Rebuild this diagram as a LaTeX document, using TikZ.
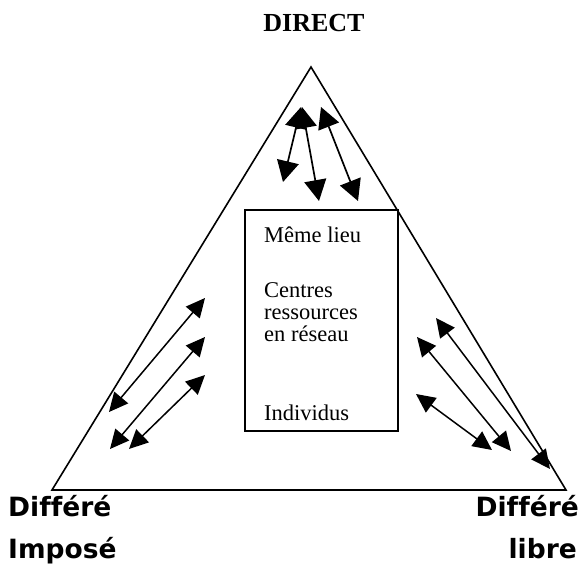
\documentclass[tikz,border=0pt]{standalone}
\usepackage{fontspec}
\setmainfont{Liberation Serif}
\newfontfamily\verd[Ligatures=NoCommon]{DejaVu Sans}
\usetikzlibrary{arrows.meta}
\begin{document}
\begin{tikzpicture}[x=1pt,y=-1pt,
  line/.style={line width=1.6pt},
  bigarrow/.style={line width=1.7pt,{Triangle[length=21pt,width=22pt]}-{Triangle[length=21pt,width=22pt]}},
  smallarrow/.style={line width=1.5pt,{Triangle[length=19pt,width=18pt]}-{Triangle[length=19pt,width=18pt]}},
  boxtext/.style={anchor=base west,inner sep=0pt,font=\fontsize{22.5}{24}\selectfont},
  corner/.style={inner sep=0pt,font=\verd\bfseries\fontsize{26.5}{30}\selectfont}]
\useasboundingbox (0,0) rectangle (583,572);
% triangle
\coordinate (apex) at (311,67);
\coordinate (bl) at (52,490);
\coordinate (br) at (566,490);
\draw[line,line join=miter] (apex) -- (bl) -- (br) -- cycle;
% box
\node[draw,line width=1.6pt,minimum width=153pt,minimum height=221pt,anchor=north west,inner sep=0pt] (box) at (244,209) {};
\node[boxtext] (t1) at (264,242) {Même lieu};
\node[boxtext] (t2) at (264,297) {Centres};
\node[boxtext] (t3) at (264,319) {ressources};
\node[boxtext] (t4) at (264,341) {en réseau};
\node[boxtext] (t5) at (264,420) {Individus};
% labels
\node[anchor=base,inner sep=0pt,font=\bfseries\fontsize{26}{30}\selectfont] (direct) at (314,32) {DIRECT};
\node[corner,anchor=base west] (dl1) at (8,516) {Différé};
\node[corner,anchor=base west] (dl2) at (8,558) {Imposé};
\node[corner,anchor=base east] (dr1) at (579,516) {Différé};
\node[corner,anchor=base east] (dr2) at (577,558) {libre};
% top arrows
\coordinate (a1s) at (301,107); \coordinate (a1e) at (283,182);
\coordinate (a2s) at (302,107); \coordinate (a2e) at (319,201);
\coordinate (a3s) at (321,107); \coordinate (a3e) at (358,201);
\draw[bigarrow] (a1s) -- (a1e);
\draw[bigarrow] (a2s) -- (a2e);
\draw[bigarrow] (a3s) -- (a3e);
% left arrows
\coordinate (l1s) at (205,298); \coordinate (l1e) at (109,412);
\coordinate (l2s) at (205,337); \coordinate (l2e) at (110,449);
\coordinate (l3s) at (205,375); \coordinate (l3e) at (129,449);
\draw[smallarrow] (l1s) -- (l1e);
\draw[smallarrow] (l2s) -- (l2e);
\draw[smallarrow] (l3s) -- (l3e);
% right arrows
\coordinate (r1s) at (436,318); \coordinate (r1e) at (550,469);
\coordinate (r2s) at (417,337); \coordinate (r2e) at (511,451);
\coordinate (r3s) at (416,394); \coordinate (r3e) at (492,450);
\draw[smallarrow] (r1s) -- (r1e);
\draw[smallarrow] (r2s) -- (r2e);
\draw[smallarrow] (r3s) -- (r3e);
\end{tikzpicture}
\end{document}
